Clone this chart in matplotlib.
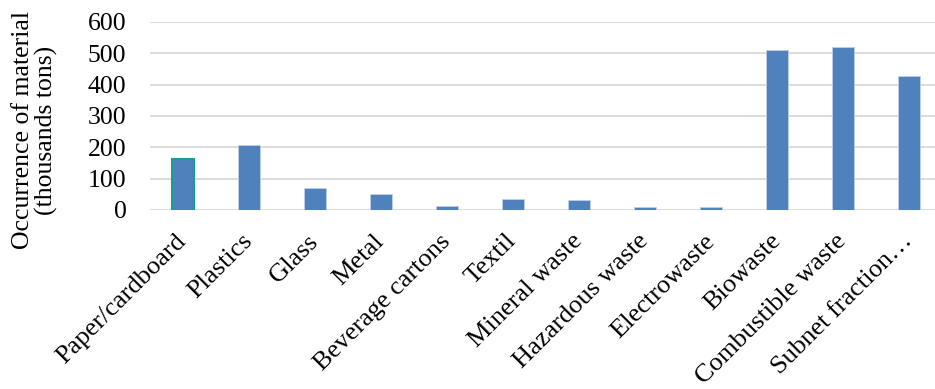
import matplotlib
matplotlib.use("Agg")
import matplotlib.pyplot as plt

categories = ["Paper/cardboard", "Plastics", "Glass", "Metal", "Beverage cartons",
              "Textil", "Mineral waste", "Hazardous waste", "Electrowaste",
              "Biowaste", "Combustible waste", "Subnet fraction\u2026"]
values = [162, 208, 70, 50, 13, 35, 32, 10, 8, 512, 519, 428]
yticks = [0, 100, 200, 300, 400, 500, 600]

plt.rcParams['font.family'] = ['Liberation Serif', 'DejaVu Serif']

W, H = 935, 389
fig = plt.figure(figsize=(W/100, H/100), dpi=100)
left = 150/W
bottom = 1 - 210/H
top = 1 - 22/H
ax = fig.add_axes([left, bottom, 792/W, top - bottom])

bar_color = "#4F81BD"
x = list(range(len(categories)))
bars = ax.bar(x, values, width=0.32, color=bar_color, zorder=3,
              edgecolor="#BFD0E8", linewidth=0.6)
bars[0].set_edgecolor("#1B9A96")
bars[0].set_linewidth(1.5)

ax.set_xlim(-0.5, len(categories) - 0.5)
ax.set_ylim(0, 600)
ax.set_yticks(yticks)
ax.set_yticklabels([str(v) for v in yticks], fontsize=18.5)
ax.grid(axis='y', color="#D9D9D9", linewidth=1.3, zorder=0)
ax.tick_params(axis='both', length=0)
ax.tick_params(axis='y', pad=17)
for s in ax.spines.values():
    s.set_visible(False)

ax.set_xticks(x)
ax.set_xticklabels(categories, rotation=45, ha='right', va='center',
                   rotation_mode='anchor', fontsize=19)
ax.tick_params(axis='x', pad=20)

fig.text(35/W, 1 - 130/H, "Occurrence of material\n(thousands tons)",
         rotation=90, ha='center', va='center', multialignment='center',
         fontsize=18.5, linespacing=1.05)

fig.savefig("out.png", dpi=100)
